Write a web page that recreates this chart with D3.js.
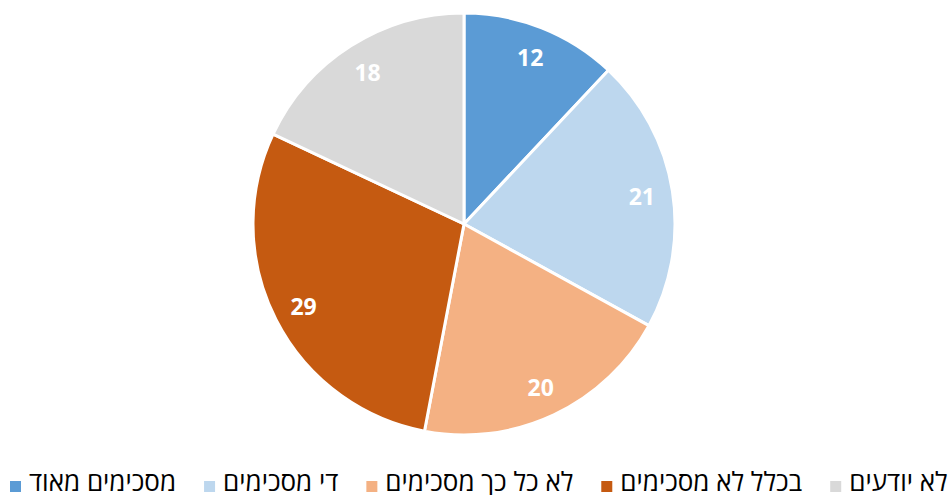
<!DOCTYPE html>
<html><head><meta charset="utf-8">
<script src="https://cdn.jsdelivr.net/npm/d3@7"></script>
<style>html,body{margin:0;padding:0;background:#fff;overflow:hidden}</style>
</head><body>
<svg id="c" width="952" height="495"></svg>
<script>
const categories = ["מסכימים מאוד", "די מסכימים", "לא כל כך מסכימים", "בכלל לא מסכימים", "לא יודעים"];
const values = [12, 21, 20, 29, 18];
const colors = ["#5B9BD5", "#BDD7EE", "#F4B183", "#C55A11", "#D9D9D9"];

const svg = d3.select("#c");
const cx = 464, cy = 224, R = 211;
const data = categories.map((c, i) => ({cat: c, v: values[i], col: colors[i]}));
const pie = d3.pie().value(d => d.v).sort(null);
const arcs = pie(data);
const arc = d3.arc().innerRadius(0).outerRadius(R);
const labelArc = d3.arc().innerRadius(180).outerRadius(180);
const g = svg.append("g").attr("transform", `translate(${cx},${cy})`);
g.selectAll("path").data(arcs).join("path")
  .attr("d", arc).attr("fill", d => d.data.col)
  .attr("stroke", "#fff").attr("stroke-width", 3).attr("stroke-linejoin", "round");
g.selectAll("text").data(arcs).join("text")
  .attr("transform", d => `translate(${labelArc.centroid(d)})`)
  .attr("text-anchor", "middle").attr("dominant-baseline", "central")
  .attr("font-family", "'Open Sans', 'Liberation Sans', sans-serif")
  .attr("font-weight", "bold").attr("font-size", 23).attr("fill", "#fff")
  .text(d => d.data.v);

const leg = svg.append("g");
let x = 10;
data.forEach(d => {
  leg.append("rect").attr("x", x).attr("y", 481).attr("width", 11).attr("height", 11).attr("fill", d.col);
  const t = leg.append("text").attr("x", x + 19).attr("y", 491)
    .attr("font-family", "'Open Sans', 'Liberation Sans', sans-serif")
    .attr("font-size", 26).attr("fill", "#000").text(d.cat);
  const w = t.node().getComputedTextLength();
  x += 19 + w + 28;
});
</script>
</body></html>
